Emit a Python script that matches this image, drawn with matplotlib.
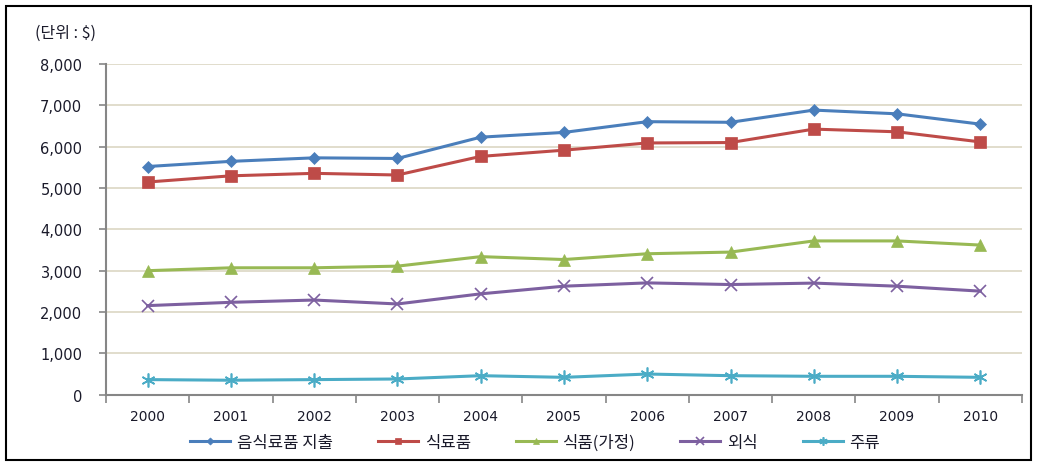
import matplotlib
matplotlib.use('Agg')
import matplotlib.pyplot as plt
from matplotlib.patches import Rectangle

plt.rcParams['font.family'] = ['Noto Sans CJK KR', 'DejaVu Sans']

years = ['2000', '2001', '2002', '2003', '2004', '2005', '2006', '2007', '2008', '2009', '2010']
total = [5520, 5645, 5730, 5715, 6230, 6345, 6605, 6590, 6885, 6795, 6545]
food = [5145, 5295, 5355, 5315, 5765, 5915, 6090, 6100, 6425, 6360, 6115]
home = [3000, 3070, 3070, 3110, 3340, 3270, 3410, 3450, 3720, 3720, 3620]
eatout = [2155, 2235, 2290, 2195, 2440, 2625, 2705, 2665, 2700, 2625, 2505]
alcohol = [365, 350, 365, 380, 460, 420, 500, 460, 445, 445, 420]

names = ['음식료품 지출', '식료품', '식품(가정)', '외식', '주류']
colors = ['#4A7EBB', '#BE4B48', '#98B954', '#7D60A0', '#4BACC6']
markers = ['D', 's', '^', 'x', (6, 2, 0)]
msizes = [6, 8, 8, 9, 10]

txt = '#1a1a2a'

fig = plt.figure(figsize=(10.37, 4.64), dpi=100)
ax = fig.add_axes([0.1022, 0.1472, 0.8833, 0.7127])

x = list(range(len(years)))
for vals, name, c, m, ms in zip([total, food, home, eatout, alcohol], names, colors, markers, msizes):
    thin = m == 'x' or isinstance(m, tuple)
    ax.plot(x, vals, color=c, lw=2.2, marker=m, markersize=ms,
            markeredgewidth=1.2 if thin else 0.5, markeredgecolor=c, label=name)

ax.set_xlim(-0.5, 10.5)
ax.set_ylim(0, 8000)
ax.set_yticks(range(0, 8001, 1000))
ax.set_yticklabels(['{:,}'.format(v) for v in range(0, 8001, 1000)], family='DejaVu Sans')
ax.set_xticks(x)
ax.set_xticklabels(years, family='DejaVu Sans')
ax.set_xticks([i - 0.5 for i in range(12)], minor=True)
ax.tick_params(axis='x', which='major', length=0, pad=10, labelsize=10, labelcolor=txt)
ax.tick_params(axis='x', which='minor', length=6, direction='out', color='#868686', width=1.2)
ax.tick_params(axis='y', length=5, direction='out', color='#868686', width=1.2,
               labelsize=10.5, labelcolor=txt, pad=12)

ax.grid(axis='y', color='#DCD7C4', lw=1.2)
ax.set_axisbelow(True)
for s in ['top', 'right']:
    ax.spines[s].set_visible(False)
for s in ['left', 'bottom']:
    ax.spines[s].set_color('#868686')
    ax.spines[s].set_linewidth(1.5)

fig.text(0.034, 0.929, '(단위 : $)', fontsize=11.5, color=txt, va='center')

leg = fig.legend(loc='center', bbox_to_anchor=(0.516, 0.045), ncol=5, frameon=False,
                 fontsize=12, handlelength=2.4, columnspacing=2.7, handletextpad=0.4,
                 markerscale=0.6)
for t in leg.get_texts():
    t.set_color(txt)

fig.patches.append(Rectangle((0.006, 0.006), 0.988, 0.978, transform=fig.transFigure,
                             fill=False, edgecolor='black', lw=1.5))

fig.savefig('out.png', dpi=100)
